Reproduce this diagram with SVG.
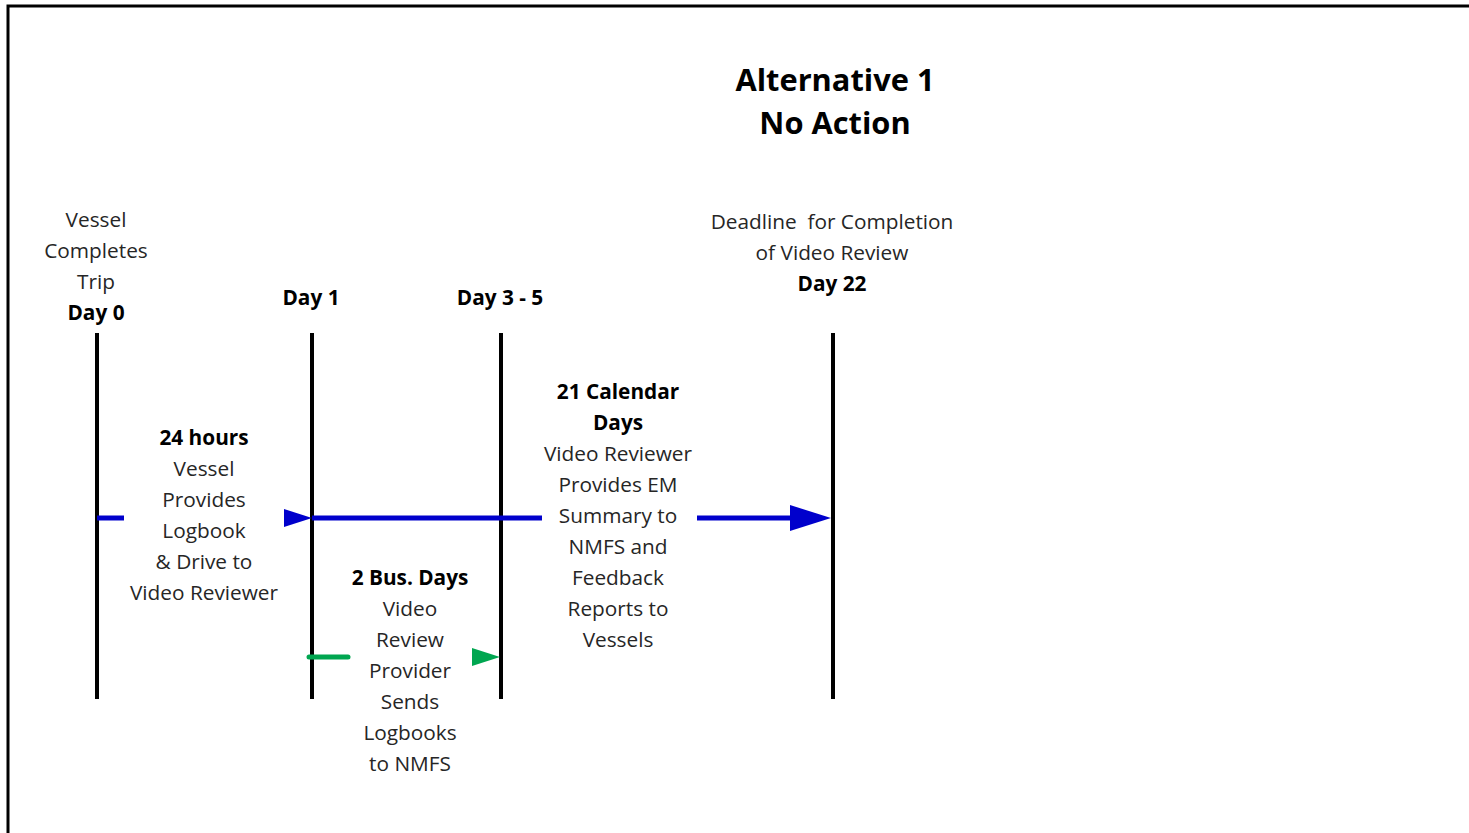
<svg xmlns="http://www.w3.org/2000/svg" width="1469" height="833" viewBox="0 0 1469 833">
  <style>
    text { font-family: "Open Sans", "Noto Sans", "DejaVu Sans", sans-serif; font-size: 20.8px; fill: #262626; text-anchor: middle; }
    .b { font-weight: bold; fill: #000; }
    .title { font-size: 30.8px; font-weight: bold; fill: #000; }
    .tick { stroke: #000; stroke-width: 4; }
    .blue { stroke: #0000cc; stroke-width: 5; fill: none; }
    .green { stroke: #00a650; stroke-width: 5; fill: none; stroke-linecap: round; }
  </style>
  <rect width="1469" height="833" fill="#fff"/>
  <!-- frame -->
  <path d="M8 833 V6 H1469" stroke="#000" stroke-width="3" fill="none"/>

  <g id="title">
    <text class="title" x="835" y="91">Alternative 1</text>
    <text class="title" x="835" y="134">No Action</text>
  </g>

  <g id="day0">
    <line class="tick" x1="97" y1="333" x2="97" y2="699"/>
    <text x="96" y="227">Vessel</text>
    <text x="96" y="258">Completes</text>
    <text x="96" y="289">Trip</text>
    <text class="b" x="96" y="320">Day 0</text>
  </g>

  <g id="day1">
    <line class="tick" x1="312" y1="333" x2="312" y2="699"/>
    <text class="b" x="311" y="305">Day 1</text>
  </g>

  <g id="day3-5">
    <line class="tick" x1="501" y1="333" x2="501" y2="699"/>
    <text class="b" x="500" y="305">Day 3 - 5</text>
  </g>

  <g id="day22">
    <line class="tick" x1="833" y1="333" x2="833" y2="699"/>
    <text x="832" y="229" xml:space="preserve">Deadline  for Completion</text>
    <text x="832" y="260">of Video Review</text>
    <text class="b" x="832" y="291">Day 22</text>
  </g>

  <g id="connectors">
    <!-- 24 hours span -->
    <line class="blue" x1="97" y1="518" x2="124" y2="518"/>
    <polygon points="284,509 312,518 284,527" fill="#0000cc"/>
    <!-- 21 calendar days span -->
    <line class="blue" x1="312" y1="518" x2="542" y2="518"/>
    <line class="blue" x1="697" y1="518" x2="792" y2="518"/>
    <polygon points="790,505 831,518 790,531" fill="#0000cc"/>
    <!-- 2 business days span -->
    <line class="green" x1="309" y1="657" x2="348" y2="657"/>
    <polygon points="472,648 500,657 472,666" fill="#00a650"/>
  </g>

  <g id="label-24h">
    <text class="b" x="204" y="445">24 hours</text>
    <text x="204" y="476">Vessel</text>
    <text x="204" y="507">Provides</text>
    <text x="204" y="538">Logbook</text>
    <text x="204" y="569">&amp; Drive to</text>
    <text x="204" y="600">Video Reviewer</text>
  </g>

  <g id="label-21d">
    <text class="b" x="618" y="399">21 Calendar</text>
    <text class="b" x="618" y="430">Days</text>
    <text x="618" y="461">Video Reviewer</text>
    <text x="618" y="492">Provides EM</text>
    <text x="618" y="523">Summary to</text>
    <text x="618" y="554">NMFS and</text>
    <text x="618" y="585">Feedback</text>
    <text x="618" y="616">Reports to</text>
    <text x="618" y="647">Vessels</text>
  </g>

  <g id="label-2bd">
    <text class="b" x="410" y="585">2 Bus. Days</text>
    <text x="410" y="616">Video</text>
    <text x="410" y="647">Review</text>
    <text x="410" y="678">Provider</text>
    <text x="410" y="709">Sends</text>
    <text x="410" y="740">Logbooks</text>
    <text x="410" y="771">to NMFS</text>
  </g>
</svg>
